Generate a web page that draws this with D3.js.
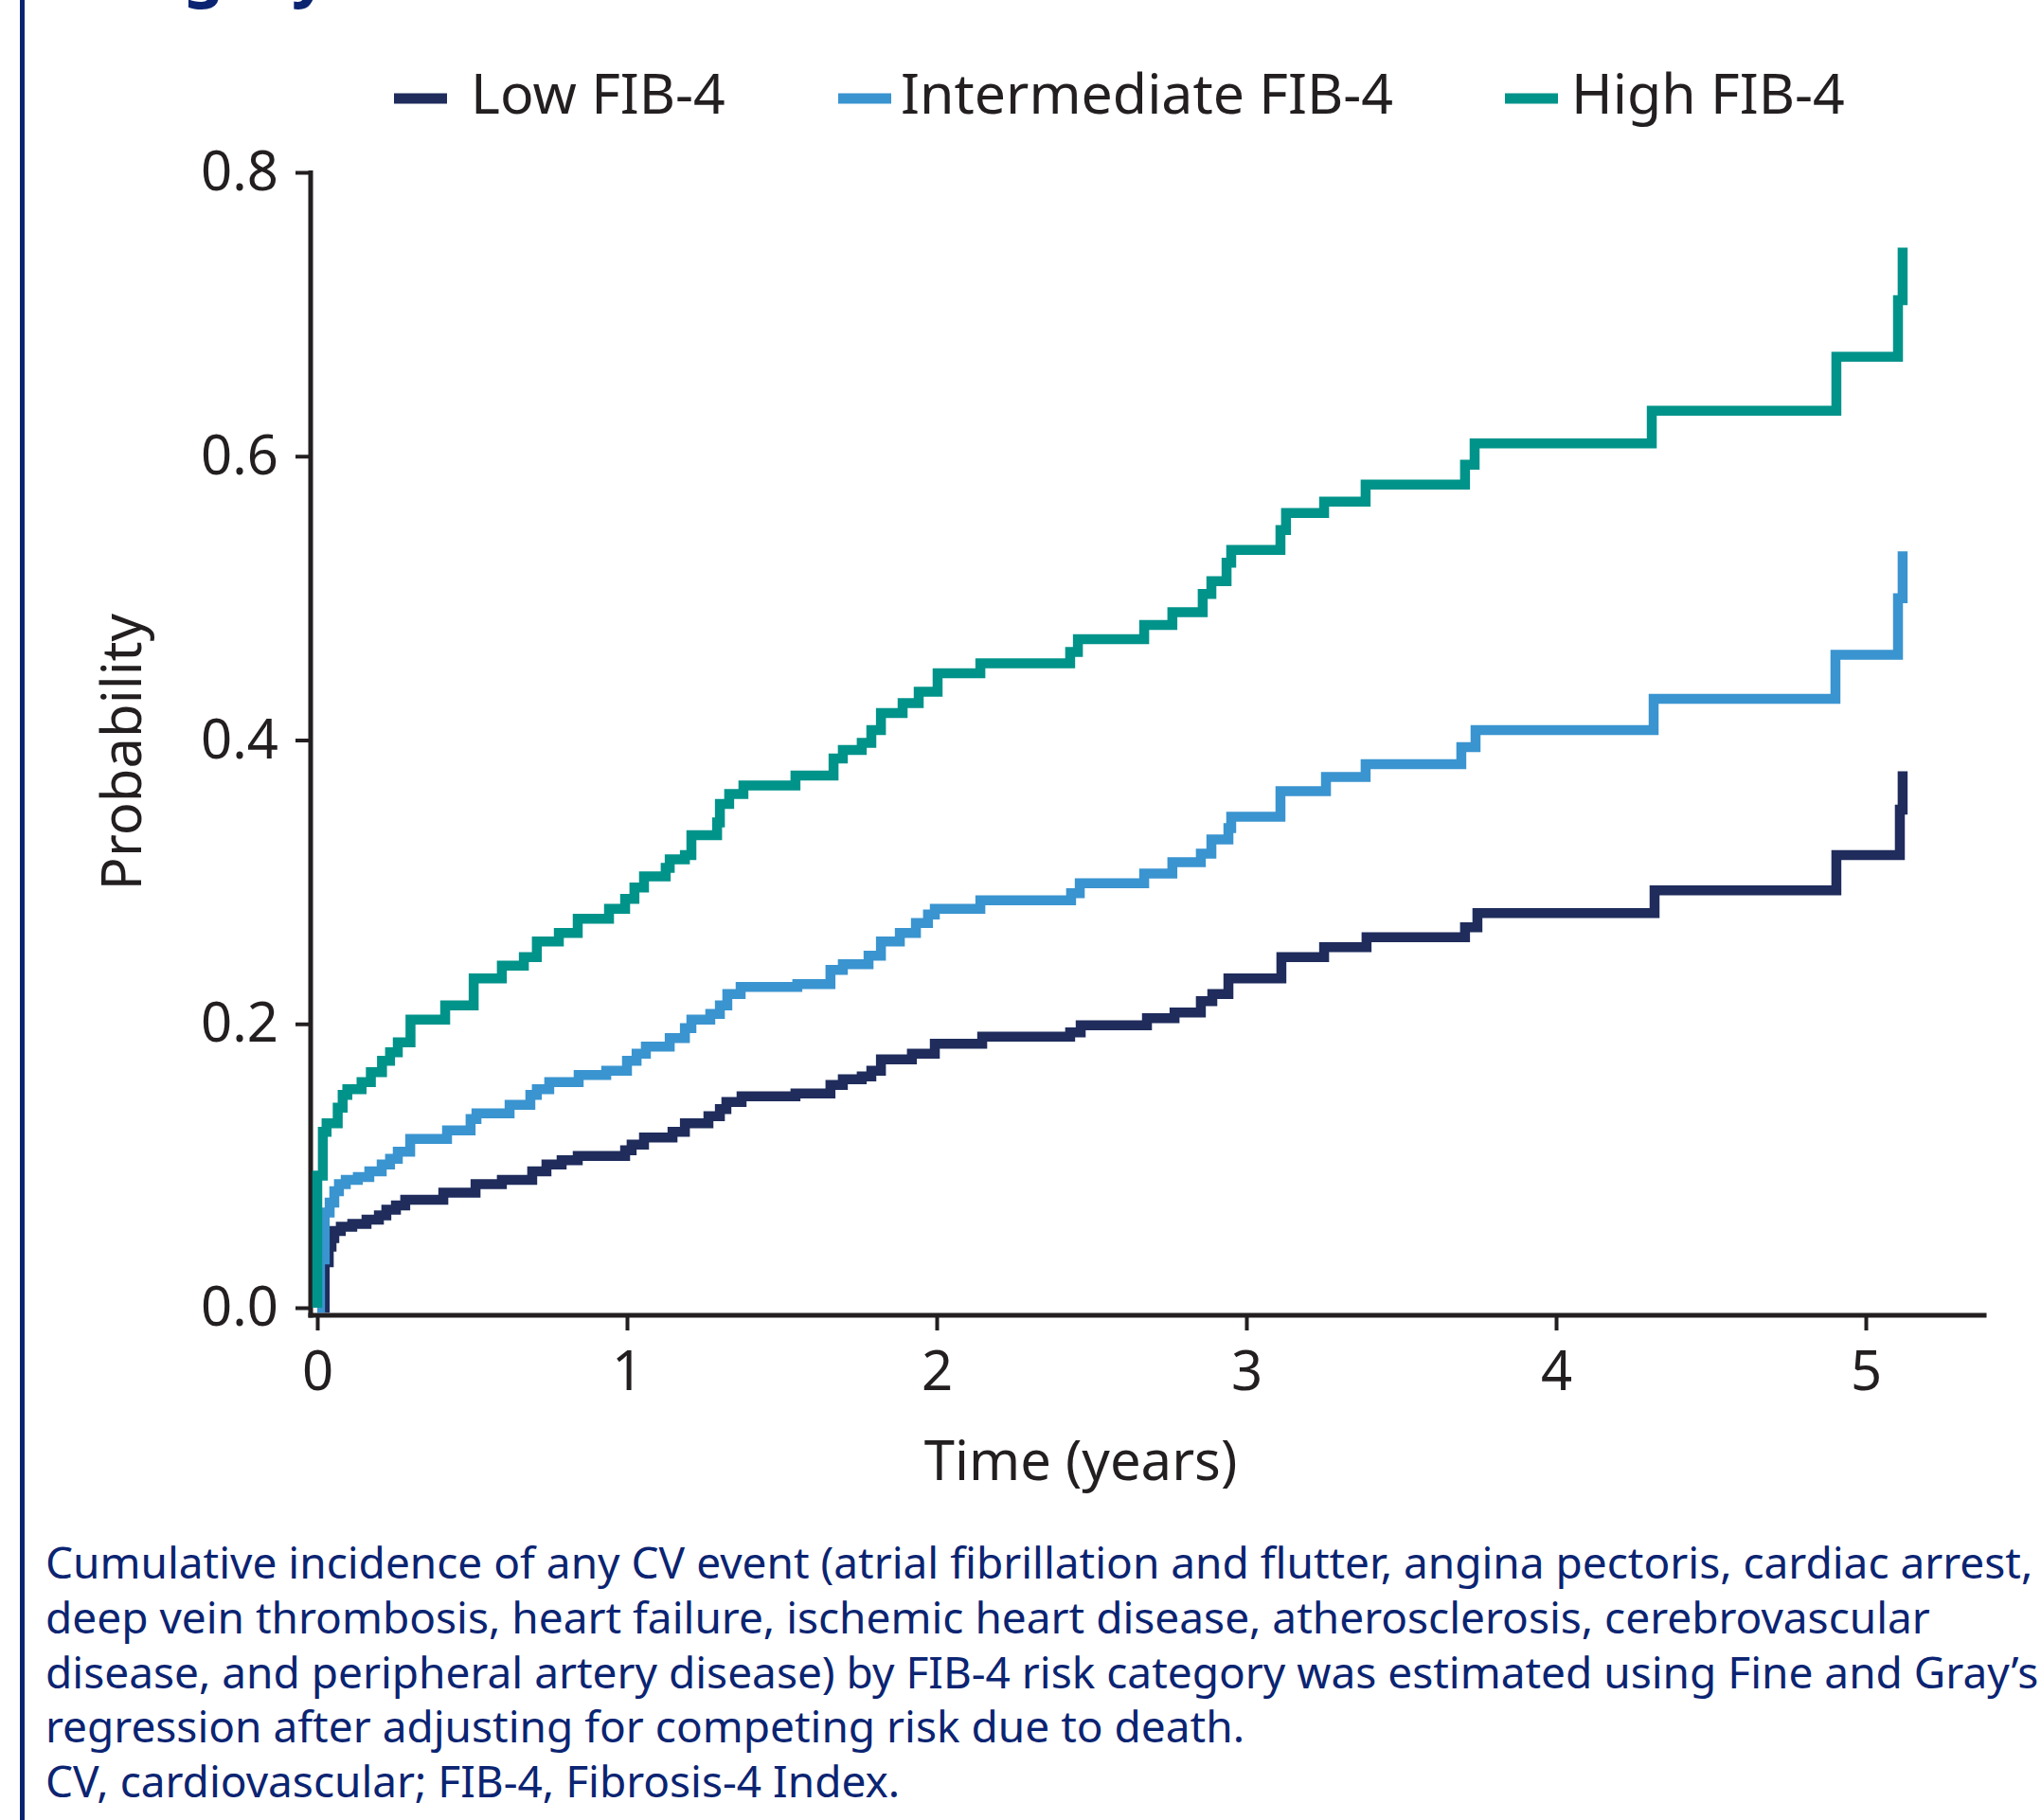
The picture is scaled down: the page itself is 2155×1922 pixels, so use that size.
<!DOCTYPE html>
<html>
<head>
<meta charset="utf-8">
<script src="https://cdn.jsdelivr.net/npm/d3@7/dist/d3.min.js"></script>
<style>
  body { margin: 0; background: #fff; }
  svg { display: block; font-family: "Noto Sans", sans-serif; }
</style>
</head>
<body>
<div id="chart"></div>
<script>
// Series: [time in years, cumulative probability] at each step
const seriesNames = ['Low FIB-4', 'Intermediate FIB-4', 'High FIB-4'];
const seriesColors = ['#1f2c5c', '#3a94d0', '#00938a'];

const lowFib4 = [
  [0, 0], [0.024, 0.032], [0.037, 0.043], [0.046, 0.049], [0.055, 0.054], [0.076, 0.057],
  [0.113, 0.059], [0.159, 0.062], [0.199, 0.065], [0.223, 0.069], [0.254, 0.072], [0.284, 0.076],
  [0.407, 0.081], [0.511, 0.087], [0.596, 0.090], [0.694, 0.096], [0.740, 0.101], [0.789, 0.104],
  [0.841, 0.107], [0.994, 0.111], [1.015, 0.115], [1.055, 0.120], [1.147, 0.124], [1.187, 0.130],
  [1.263, 0.135], [1.300, 0.140], [1.321, 0.145], [1.370, 0.149], [1.544, 0.151], [1.657, 0.157],
  [1.697, 0.161], [1.758, 0.163], [1.789, 0.167], [1.820, 0.175], [1.920, 0.179], [1.994, 0.186],
  [2.147, 0.191], [2.431, 0.194], [2.465, 0.199], [2.679, 0.204], [2.768, 0.208], [2.853, 0.216],
  [2.890, 0.221], [2.942, 0.232], [3.113, 0.247], [3.251, 0.254], [3.388, 0.261], [3.706, 0.268],
  [3.746, 0.278], [4.318, 0.294], [4.905, 0.319], [5.110, 0.351], [5.119, 0.378]
];

const intermediateFib4 = [
  [0, 0], [0.009, 0.034], [0.024, 0.067], [0.040, 0.074], [0.055, 0.082], [0.070, 0.087],
  [0.092, 0.090], [0.131, 0.092], [0.168, 0.096], [0.208, 0.101], [0.235, 0.105], [0.260, 0.110],
  [0.300, 0.119], [0.419, 0.125], [0.495, 0.133], [0.514, 0.137], [0.621, 0.143], [0.688, 0.150],
  [0.709, 0.154], [0.749, 0.159], [0.844, 0.164], [0.933, 0.167], [1.000, 0.174], [1.031, 0.179],
  [1.061, 0.184], [1.138, 0.190], [1.187, 0.197], [1.208, 0.203], [1.269, 0.207], [1.300, 0.213],
  [1.324, 0.221], [1.367, 0.226], [1.550, 0.228], [1.657, 0.238], [1.697, 0.242], [1.780, 0.248],
  [1.820, 0.258], [1.881, 0.264], [1.933, 0.271], [1.972, 0.277], [1.994, 0.281], [2.141, 0.287],
  [2.434, 0.292], [2.462, 0.299], [2.670, 0.306], [2.761, 0.314], [2.853, 0.320], [2.887, 0.330],
  [2.942, 0.338], [2.951, 0.346], [3.110, 0.364], [3.257, 0.374], [3.385, 0.383], [3.694, 0.395],
  [3.740, 0.407], [4.315, 0.429], [4.902, 0.460], [5.104, 0.500], [5.119, 0.533]
];

const highFib4 = [
  [0, 0], [0, 0.093], [0.018, 0.124], [0.030, 0.130], [0.066, 0.141], [0.082, 0.150],
  [0.097, 0.154], [0.143, 0.159], [0.173, 0.166], [0.209, 0.174], [0.235, 0.180], [0.260, 0.187],
  [0.301, 0.203], [0.413, 0.213], [0.505, 0.232], [0.596, 0.241], [0.667, 0.247], [0.709, 0.258],
  [0.780, 0.264], [0.841, 0.274], [0.942, 0.281], [0.994, 0.288], [1.024, 0.296], [1.055, 0.304],
  [1.125, 0.310], [1.138, 0.316], [1.187, 0.319], [1.208, 0.333], [1.291, 0.342], [1.300, 0.355],
  [1.330, 0.362], [1.376, 0.368], [1.544, 0.375], [1.667, 0.387], [1.697, 0.393], [1.758, 0.398],
  [1.789, 0.407], [1.820, 0.419], [1.890, 0.426], [1.942, 0.434], [2.003, 0.447], [2.141, 0.454],
  [2.431, 0.462], [2.456, 0.471], [2.670, 0.481], [2.761, 0.490], [2.859, 0.503], [2.887, 0.512],
  [2.936, 0.525], [2.951, 0.534], [3.110, 0.548], [3.128, 0.560], [3.251, 0.568], [3.385, 0.580],
  [3.706, 0.594], [3.737, 0.609], [4.309, 0.632], [4.905, 0.670], [5.104, 0.710], [5.119, 0.747]
];

const xTicks = [0, 1, 2, 3, 4, 5];
const yTicks = [0, 0.2, 0.4, 0.6, 0.8];

const captionLines = [
  'Cumulative incidence of any CV event (atrial fibrillation and flutter, angina pectoris, cardiac arrest,',
  'deep vein thrombosis, heart failure, ischemic heart disease, atherosclerosis, cerebrovascular',
  'disease, and peripheral artery disease) by FIB-4 risk category was estimated using Fine and Gray\u2019s',
  'regression after adjusting for competing risk due to death.',
  'CV, cardiovascular; FIB-4, Fibrosis-4 Index.'
];

// Layout
const W = 2155, H = 1922;
const ink = '#231f20';
const navy = '#0b2472';

const svg = d3.select('#chart').append('svg')
  .attr('width', W)
  .attr('height', H)
  .style('background', '#fff');

// left border rule and the title line above, clipped by the top edge as in the source
svg.append('line')
  .attr('x1', 23.5).attr('x2', 23.5)
  .attr('y1', 0).attr('y2', H)
  .attr('stroke', navy)
  .attr('stroke-width', 5);

svg.append('text')
  .attr('x', 50)
  .attr('y', -6)
  .attr('fill', navy)
  .attr('font-size', 67)
  .attr('font-weight', 700)
  .text('category');

// scales
const x = d3.scaleLinear().domain([0, 5]).range([335, 1970]);
const y = d3.scaleLinear().domain([0, 0.8]).range([1381, 182]);

const xAxisY = 1389;
const yAxisX = 328;

// y axis
const gy = svg.append('g')
  .attr('transform', `translate(${yAxisX},0)`)
  .call(d3.axisLeft(y).tickValues(yTicks).tickFormat(d3.format('.1f')).tickSize(16).tickPadding(18));
gy.select('.domain').remove();
gy.selectAll('.tick line').attr('stroke', ink).attr('stroke-width', 4);
gy.selectAll('.tick text')
  .attr('fill', ink)
  .attr('font-size', 58)
  .attr('font-family', '"Noto Sans", sans-serif');
gy.append('line')
  .attr('x1', 0).attr('x2', 0)
  .attr('y1', y(0.8) - 2)
  .attr('y2', xAxisY + 2.5)
  .attr('stroke', ink)
  .attr('stroke-width', 5);

// x axis
const gx = svg.append('g')
  .attr('transform', `translate(0,${xAxisY})`)
  .call(d3.axisBottom(x).tickValues(xTicks).tickFormat(d3.format('d')).tickSize(16).tickPadding(22));
gx.select('.domain').remove();
gx.selectAll('.tick line').attr('stroke', ink).attr('stroke-width', 4);
gx.selectAll('.tick text')
  .attr('fill', ink)
  .attr('font-size', 58)
  .attr('font-family', '"Noto Sans", sans-serif');
gx.append('line')
  .attr('x1', yAxisX - 2.5)
  .attr('x2', x(5.39))
  .attr('y1', 0).attr('y2', 0)
  .attr('stroke', ink)
  .attr('stroke-width', 5);

// axis titles
svg.append('text')
  .attr('x', 1141)
  .attr('y', 1563)
  .attr('text-anchor', 'middle')
  .attr('fill', ink)
  .attr('font-size', 58)
  .text('Time (years)');

svg.append('text')
  .attr('transform', 'translate(149,794) rotate(-90)')
  .attr('text-anchor', 'middle')
  .attr('fill', ink)
  .attr('font-size', 58)
  .text('Probability');

// step curves
const line = d3.line()
  .x(d => x(d[0]))
  .y(d => y(d[1]))
  .curve(d3.curveStepAfter);

[lowFib4, intermediateFib4, highFib4].forEach((series, i) => {
  svg.append('path')
    .datum(series)
    .attr('fill', 'none')
    .attr('stroke', seriesColors[i])
    .attr('stroke-width', 10.5)
    .attr('stroke-linejoin', 'miter')
    .attr('stroke-linecap', 'butt')
    .attr('d', line);
});

// legend
const legendSwatchX = [416, 885, 1589];
const legendTextX = [497, 951, 1659];
seriesNames.forEach((name, i) => {
  svg.append('rect')
    .attr('x', legendSwatchX[i])
    .attr('y', 98.5)
    .attr('width', 56)
    .attr('height', 11)
    .attr('fill', seriesColors[i]);
  svg.append('text')
    .attr('x', legendTextX[i])
    .attr('y', 120)
    .attr('fill', ink)
    .attr('font-size', 59)
    .text(name);
});

// caption
const caption = svg.append('text')
  .attr('fill', navy)
  .attr('font-size', 46);
captionLines.forEach((t, i) => {
  caption.append('tspan')
    .attr('x', 48)
    .attr('y', 1667 + i * 57.75)
    .text(t);
});
</script>
</body>
</html>
